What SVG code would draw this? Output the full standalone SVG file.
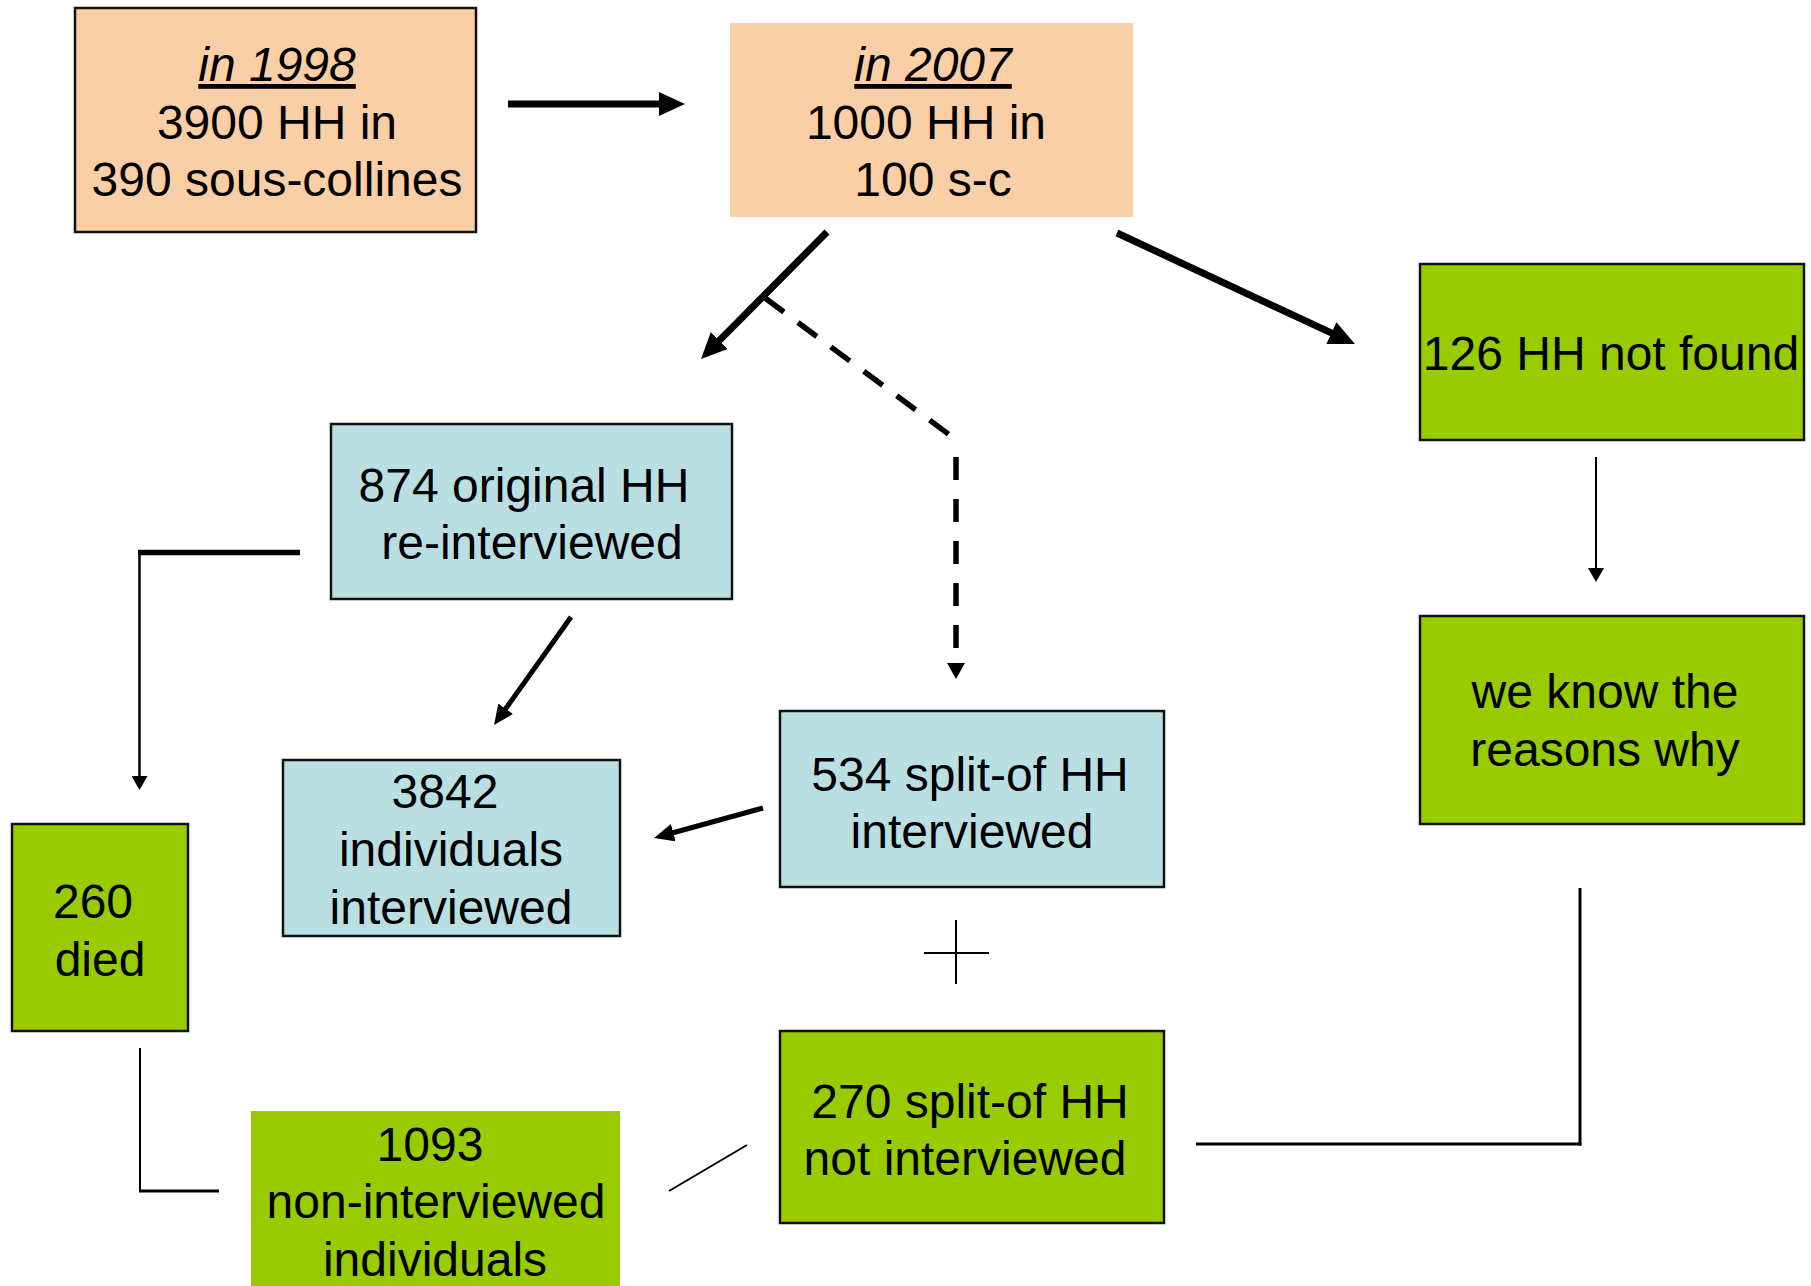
<svg xmlns="http://www.w3.org/2000/svg" width="1811" height="1286" viewBox="0 0 1811 1286">
<style>
.t{font-family:"Liberation Sans",Arial,sans-serif;font-size:48px;fill:#000;text-anchor:middle}
.u{font-style:italic;text-decoration:underline}
.peach{fill:#FACFA5}
.green{fill:#99CC00}
.blue{fill:#B9DFE2}
.bd{stroke:#111;stroke-width:2.5}
.c{fill:none;stroke:#000}
</style>
<defs>
<marker id="big" markerUnits="userSpaceOnUse" markerWidth="26" markerHeight="24" viewBox="0 0 26 24" refX="4" refY="12" orient="auto"><path d="M0,0 L26,12 L0,24 z" fill="#000"/></marker>
<marker id="mid" markerUnits="userSpaceOnUse" markerWidth="20" markerHeight="18" viewBox="0 0 20 18" refX="3" refY="9" orient="auto"><path d="M0,0 L20,9 L0,18 z" fill="#000"/></marker>
<marker id="small" markerUnits="userSpaceOnUse" markerWidth="14" markerHeight="16" viewBox="0 0 14 16" refX="2" refY="8" orient="auto"><path d="M0,0 L14,8 L0,16 z" fill="#000"/></marker>
<marker id="dash" markerUnits="userSpaceOnUse" markerWidth="16" markerHeight="18" viewBox="0 0 16 18" refX="0" refY="9" orient="auto"><path d="M0,0 L16,9 L0,18 z" fill="#000"/></marker>
</defs>

<g id="n1998">
<rect class="peach bd" x="75" y="8" width="401" height="224"/>
<text class="t u" x="277" y="81">in 1998</text>
<text class="t" x="277" y="139">3900 HH in</text>
<text class="t" x="277" y="196">390 sous-collines</text>
</g>
<g id="n2007">
<rect class="peach" x="730" y="23" width="403" height="194"/>
<text class="t u" x="933" y="81">in 2007</text>
<text class="t" x="926" y="139">1000 HH in</text>
<text class="t" x="933" y="196">100 s-c</text>
</g>
<g id="n126">
<rect class="green bd" x="1420" y="264" width="384" height="176"/>
<text class="t" x="1611" y="370">126 HH not found</text>
</g>
<g id="nknow">
<rect class="green bd" x="1420" y="616" width="384" height="208"/>
<text class="t" x="1605" y="708">we know the</text>
<text class="t" x="1605" y="766">reasons why</text>
</g>
<g id="n874">
<rect class="blue bd" x="331" y="424" width="401" height="175"/>
<text class="t" x="524" y="502">874 original HH</text>
<text class="t" x="532" y="559">re-interviewed</text>
</g>
<g id="n3842">
<rect class="blue bd" x="283" y="760" width="337" height="176"/>
<text class="t" x="445" y="808">3842</text>
<text class="t" x="451" y="866">individuals</text>
<text class="t" x="451" y="924">interviewed</text>
</g>
<g id="n534">
<rect class="blue bd" x="780" y="711" width="384" height="176"/>
<text class="t" x="970" y="791">534 split-of HH</text>
<text class="t" x="972" y="848">interviewed</text>
</g>
<g id="n270">
<rect class="green bd" x="780" y="1031" width="384" height="192"/>
<text class="t" x="970" y="1118">270 split-of HH</text>
<text class="t" x="965" y="1175">not interviewed</text>
</g>
<g id="n260">
<rect class="green bd" x="12" y="824" width="176" height="207"/>
<text class="t" x="93" y="918">260</text>
<text class="t" x="100" y="976">died</text>
</g>
<g id="n1093">
<rect class="green" x="251" y="1111" width="369" height="180"/>
<text class="t" x="430" y="1161">1093</text>
<text class="t" x="436" y="1218">non-interviewed</text>
<text class="t" x="435" y="1276">individuals</text>
</g>

<g id="connectors">
<line class="c" x1="508" y1="104" x2="663" y2="104" stroke-width="7" marker-end="url(#big)"/>
<line class="c" x1="827" y1="232" x2="716.5" y2="343.4" stroke-width="7" marker-end="url(#big)"/>
<line class="c" x1="1117" y1="233" x2="1335" y2="334.7" stroke-width="7" marker-end="url(#big)"/>
<line class="c" x1="765" y1="298" x2="951" y2="436" stroke-width="5.5" stroke-dasharray="23.5,17.5"/>
<line class="c" x1="956" y1="457" x2="956" y2="663" stroke-width="5.5" stroke-dasharray="23,19" marker-end="url(#dash)"/>
<line class="c" x1="1596" y1="457" x2="1596" y2="570" stroke-width="2" marker-end="url(#small)"/>
<line class="c" x1="300" y1="552.5" x2="138" y2="552.5" stroke-width="5.5"/>
<line class="c" x1="139.5" y1="552" x2="139.5" y2="778" stroke-width="2.5" marker-end="url(#small)"/>
<line class="c" x1="571" y1="617" x2="503.9" y2="711.2" stroke-width="5" marker-end="url(#mid)"/>
<line class="c" x1="763" y1="808" x2="670.4" y2="833.5" stroke-width="5" marker-end="url(#mid)"/>
<line class="c" x1="956" y1="920" x2="956" y2="984" stroke-width="2"/>
<line class="c" x1="924" y1="953" x2="989" y2="953" stroke-width="2"/>
<line class="c" x1="140" y1="1048" x2="140" y2="1191" stroke-width="2"/>
<line class="c" x1="139" y1="1191" x2="219" y2="1191" stroke-width="3"/>
<line class="c" x1="1580" y1="888" x2="1580" y2="1145.5" stroke-width="3"/>
<line class="c" x1="1581.5" y1="1144" x2="1196" y2="1144" stroke-width="3"/>
<line class="c" x1="669" y1="1191" x2="747" y2="1145" stroke-width="2"/>
</g>
</svg>
